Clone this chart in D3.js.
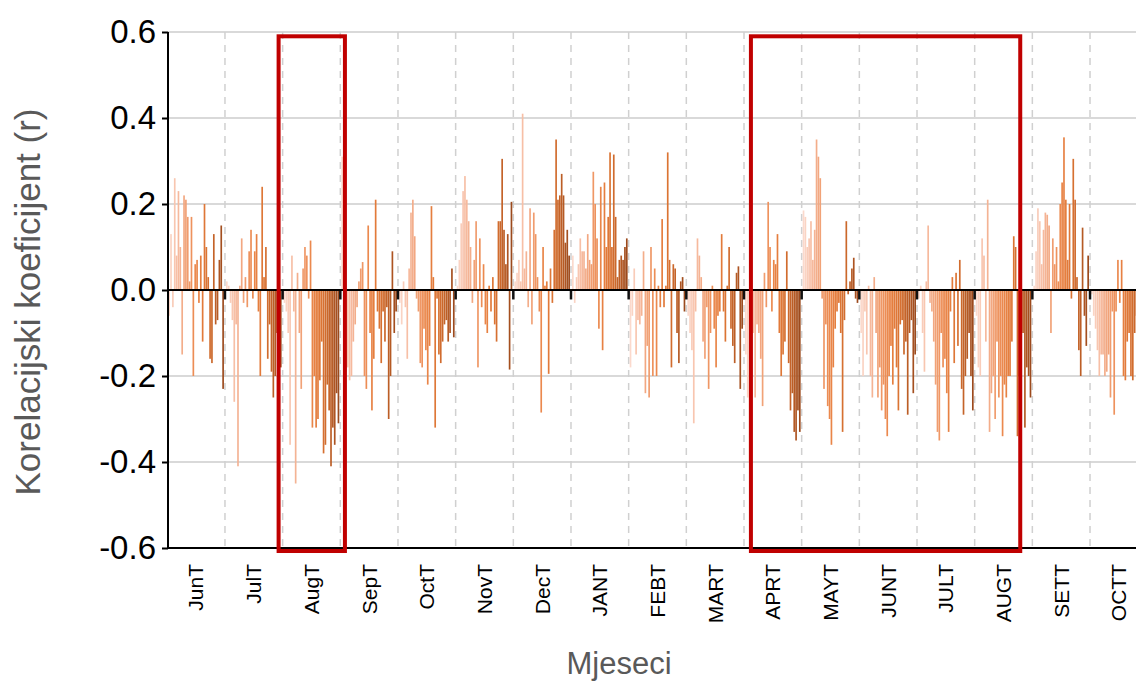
<!DOCTYPE html>
<html>
<head>
<meta charset="utf-8">
<script src="https://cdn.jsdelivr.net/npm/d3@7"></script>
<style>
  body { margin: 0; background: #fff; }
  svg { font-family: "Liberation Sans", Arial, sans-serif; }
</style>
</head>
<body>
<svg id="chart"></svg>
<script>
const months = ["JunT","JulT","AugT","SepT","OctT","NovT","DecT","JANT","FEBT","MART",
                "APRT","MAYT","JUNT","JULT","AUGT","SETT","OCTT"];

const jun = [-0.06,0.13,-0.04,0.26,0.08,0.23,0.1,-0.15,0.22,0.21,0.17,0.02,0.17,-0.2,0.06,0.07,-0.03,0.08,-0.12,0.2,0.1,0.03,-0.16,-0.17,0.13,-0.08,-0.07,0.07,0.15,-0.23];
const jul = [0.02,0.01,-0.03,-0.07,-0.26,-0.08,-0.41,0.01,0.12,-0.03,0.03,-0.04,0.09,0.14,-0.02,0.09,0.13,-0.05,-0.2,0.24,0.03,0.1,-0.16,-0.08,-0.19,-0.25,-0.2,-0.1,-0.07,-0.18];
const aug = [-0.03,-0.05,-0.1,-0.36,0.08,-0.05,-0.45,0.04,-0.1,-0.23,0.05,0.1,0.08,-0.02,0.115,-0.32,-0.2,-0.32,-0.3,-0.21,-0.12,-0.38,-0.36,-0.22,-0.28,-0.41,-0.32,-0.36,-0.24,-0.31];
const sep = [0.31,-0.03,-0.19,-0.18,-0.21,-0.2,-0.12,-0.08,-0.04,0.02,0.05,0.065,-0.2,-0.23,0.15,-0.1,-0.28,-0.16,0.21,-0.05,-0.09,-0.17,-0.05,-0.12,-0.04,-0.3,-0.2,0.09,-0.1,-0.05];
const oct = [-0.03,-0.08,0.02,-0.04,-0.16,0.05,0.18,0.21,0.125,-0.02,-0.05,-0.17,-0.18,-0.09,-0.14,-0.22,-0.13,0.195,0.03,-0.32,-0.02,-0.15,-0.17,-0.12,-0.08,-0.07,-0.12,-0.1,0.05,-0.11];
const nov = [0.01,0.07,0.155,0.23,0.265,0.21,0.16,0.1,-0.03,0.07,0.16,-0.18,0.12,-0.04,0.06,-0.08,-0.1,0.01,-0.05,0.03,-0.08,-0.12,0.16,0.16,0.305,0.14,0.06,0.13,-0.185,0.205];
const dec = [0.02,0.04,0.07,0.02,0.41,0.05,0.09,-0.04,0.19,-0.08,0.18,0.13,0.03,-0.05,-0.285,0.1,0.01,0.02,-0.195,0.05,-0.03,0.14,0.35,0.21,0.22,0.27,0.22,0.11,0.14,0.08];
const jan = [0.08,-0.03,0.03,0.06,0.12,0.09,0.09,0.05,0.13,0.07,0.06,0.275,0.2,0.12,-0.09,0.24,-0.14,0.25,0.1,0.17,0.32,0.1,0.315,0.17,0.03,0.07,0.08,0.07,0.1,0.12];
const feb = [-0.18,-0.06,0.05,-0.15,-0.07,-0.08,-0.06,0.09,-0.24,-0.13,-0.25,0.1,-0.2,0.05,-0.2,0.01,-0.04,0.165,-0.04,0.01,0.32,0.07,-0.18,0.06,0.05,-0.1,-0.17,0.02,0.03,-0.05];
const mar = [-0.06,-0.1,-0.14,-0.31,-0.05,0.12,0.08,0.03,-0.12,-0.16,-0.04,-0.23,-0.1,0.01,-0.09,-0.18,-0.06,-0.05,0.13,-0.05,-0.12,0.01,0.1,-0.09,-0.13,-0.17,0.04,0.055,-0.23,-0.09];
const apr = [-0.15,-0.25,-0.4,-0.38,-0.1,-0.25,-0.08,-0.1,-0.16,-0.27,0.04,-0.04,0.205,0.1,-0.05,0.07,0.06,0.13,-0.1,-0.2,-0.15,-0.12,0.09,-0.17,-0.28,-0.24,-0.33,-0.35,-0.28,-0.33];
const may = [0.185,0.17,0.1,0.12,0.16,0.07,0.14,0.35,0.31,0.26,-0.02,-0.23,-0.08,-0.27,-0.3,-0.36,-0.18,-0.09,-0.05,-0.03,-0.1,-0.33,-0.07,0.16,-0.01,0.02,0.05,0.075,-0.02,-0.03];
const junT = [-0.1,-0.2,-0.05,-0.15,0.01,-0.2,-0.25,0.03,-0.1,-0.25,-0.18,-0.28,-0.22,-0.3,-0.34,-0.2,-0.13,-0.22,-0.09,-0.18,-0.28,-0.08,-0.07,-0.15,-0.12,-0.29,-0.1,-0.07,-0.24,-0.15];
const julT = [-0.02,0.01,-0.1,-0.19,0.02,0.15,-0.03,-0.05,-0.12,-0.22,-0.33,-0.35,-0.1,-0.18,-0.16,-0.24,-0.33,-0.05,0.03,-0.17,0.04,-0.13,0.07,-0.23,-0.29,-0.2,-0.16,-0.1,-0.2,-0.28];
const augT = [-0.06,-0.18,-0.2,0.12,0.08,-0.12,0.21,-0.33,-0.24,-0.2,-0.3,-0.12,-0.25,-0.2,-0.34,-0.22,-0.25,-0.2,-0.2,-0.12,0.125,0.1,-0.34,-0.2,-0.3,-0.1,-0.32,-0.18,-0.2,-0.25];
const set = [0.01,0.09,0.19,0.16,0.06,0.14,0.18,0.175,0.15,-0.1,0.12,0.06,0.1,0.02,0.2,0.25,0.355,0.21,0.07,0.2,-0.02,0.305,0.21,0.03,-0.14,-0.2,0.145,-0.06,-0.13,0.08];
const octT = [-0.01,-0.06,-0.09,-0.14,-0.2,-0.15,-0.15,-0.2,-0.19,-0.15,-0.25,-0.05,-0.29,-0.05,0.07,-0.03,0.07,-0.2,-0.21,-0.12,-0.1,-0.2,-0.21,-0.1,-0.06,-0.12,-0.19,-0.2,-0.21,-0.1];

const seriesValues = [jun, jul, aug, sep, oct, nov, dec, jan, feb, mar, apr, may, junT, julT, augT, set, octT];
const separatorValue = -0.022;
const yTicks = [0.6, 0.4, 0.2, 0.0, -0.2, -0.4, -0.6];
// highlighted ranges: [start month, fraction into band, end month, fraction into band]
const highlights = [["AugT", -0.07, "AugT", 1.08], ["APRT", 0.12, "AUGT", 0.79]];

const W = 1136, H = 684;
const margin = { top: 32, left: 168, bottom: 136 };
const monthW = 57.67;
const x0 = 167.3 - margin.left;
const plotW = W - margin.left;
const height = H - margin.top - margin.bottom;

const svg = d3.select("#chart").attr("width", W).attr("height", H);
const g = svg.append("g").attr("transform", "translate(" + margin.left + "," + margin.top + ")");

svg.append("defs").append("clipPath").attr("id", "clip")
  .append("rect").attr("x", 0).attr("y", -5).attr("width", plotW).attr("height", height + 10);

const x = d3.scaleBand().domain(months).range([x0, x0 + monthW * months.length]).padding(0);
const y = d3.scaleLinear().domain([-0.6, 0.6]).range([height, 0]);

// grid
g.append("g").selectAll("line").data(yTicks).enter().append("line")
  .attr("x1", 0).attr("x2", plotW)
  .attr("y1", d => y(d)).attr("y2", d => y(d))
  .attr("stroke", "#d9d9d9").attr("stroke-width", 2);

g.append("g").selectAll("line").data(months.slice(1)).enter().append("line")
  .attr("x1", d => x(d)).attr("x2", d => x(d))
  .attr("y1", 0).attr("y2", height)
  .attr("stroke", "#d0d0d0").attr("stroke-width", 1.5)
  .attr("stroke-dasharray", "7,6");

// bars
const color = d3.interpolateRgbBasis(["#fbd9cc", "#f3aa88", "#ec8443", "#d9702e", "#9c4a1d"]);
const barsG = g.append("g").attr("clip-path", "url(#clip)");
months.forEach((m, mi) => {
  const vals = seriesValues[mi];
  const slots = d3.range(vals.length + 1);
  const inner = d3.scaleBand().domain(slots).range([x(m), x(m) + x.bandwidth()]);
  const bw = inner.bandwidth() * 0.9;
  barsG.append("g").selectAll("rect").data(vals).enter().append("rect")
    .attr("x", (d, i) => inner(i + 1) - bw / 2)
    .attr("width", bw)
    .attr("y", d => y(Math.max(0, d)))
    .attr("height", d => Math.abs(y(d) - y(0)))
    .attr("fill", (d, i) => color(i / (vals.length - 1)));
  if (mi > 0) {
    barsG.append("rect")
      .attr("x", x(m) - 1.25).attr("width", 2.5)
      .attr("y", y(0)).attr("height", y(separatorValue) - y(0))
      .attr("fill", "#111");
  }
});

// zero line
g.append("line").attr("x1", 0).attr("x2", plotW)
  .attr("y1", y(0)).attr("y2", y(0)).attr("stroke", "#000").attr("stroke-width", 2);

// axes
const yAxis = d3.axisLeft(y).tickValues(yTicks).tickFormat(d => d.toFixed(1)).tickSize(6).tickPadding(6);
const ya = g.append("g").call(yAxis);
ya.selectAll("text").attr("font-size", 33).attr("fill", "#000");
ya.selectAll("path, line").attr("stroke", "#000").attr("stroke-width", 2);
ya.select(".domain").attr("d", "M0," + y(0.6) + "V" + y(-0.6));

g.append("line").attr("x1", 0).attr("x2", plotW)
  .attr("y1", height).attr("y2", height).attr("stroke", "#000").attr("stroke-width", 2);

g.append("g").selectAll("text").data(months).enter().append("text")
  .attr("transform", d => "translate(" + (x(d) + x.bandwidth() / 2) + "," + (height + 16) + ") rotate(-90)")
  .attr("text-anchor", "end").attr("dy", "0.35em")
  .attr("font-size", 21).attr("fill", "#000")
  .text(d => d);

// highlight boxes
g.append("g").selectAll("rect").data(highlights).enter().append("rect")
  .attr("x", d => x(d[0]) + d[1] * x.bandwidth())
  .attr("width", d => (x(d[2]) + d[3] * x.bandwidth()) - (x(d[0]) + d[1] * x.bandwidth()))
  .attr("y", y(0.59)).attr("height", y(-0.607) - y(0.59))
  .attr("fill", "none").attr("stroke", "#c00000").attr("stroke-width", 4);

// titles
svg.append("text")
  .attr("transform", "translate(40," + (margin.top + height / 2 + 12) + ") rotate(-90)")
  .attr("text-anchor", "middle").attr("font-size", 35).attr("fill", "#595959")
  .text("Korelacijski koeficijent (r)");
svg.append("text")
  .attr("x", 619).attr("y", 674)
  .attr("text-anchor", "middle").attr("font-size", 31).attr("fill", "#595959")
  .text("Mjeseci");
</script>
</body>
</html>
